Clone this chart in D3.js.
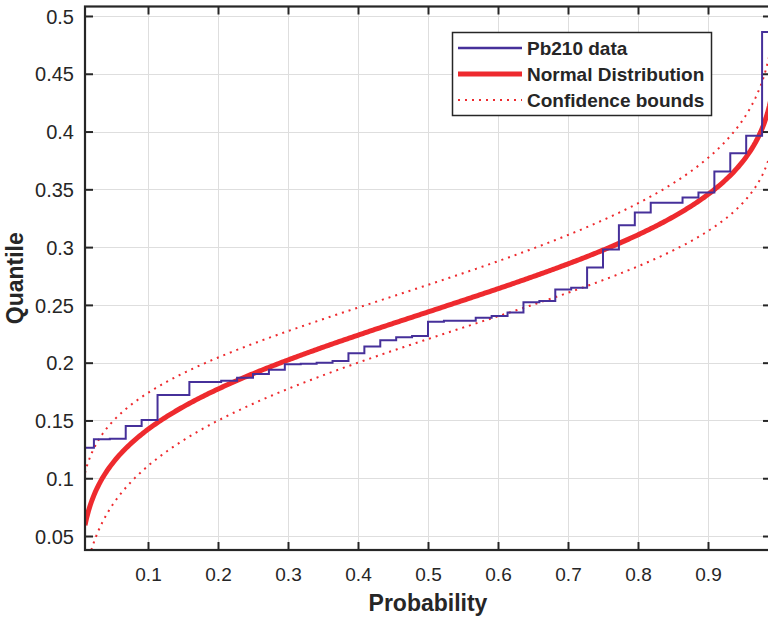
<!DOCTYPE html>
<html>
<head>
<meta charset="utf-8">
<script src="https://cdn.jsdelivr.net/npm/d3@7"></script>
<style>
  body { margin: 0; background: #fff; }
  svg { display: block; font-family: "Liberation Sans", Arial, sans-serif; }
</style>
</head>
<body>
<svg id="chart" width="768" height="617"></svg>
<script>
// Pb210 sample values, sorted
const pb210 = [
  0.1264, 0.1337, 0.1342, 0.1452, 0.1504, 0.1720, 0.1720, 0.1833, 0.1833, 0.1844,
  0.1870, 0.1902, 0.1939, 0.1986, 0.1990, 0.2000, 0.2014, 0.2081, 0.2141, 0.2195,
  0.2219, 0.2230, 0.2354, 0.2362, 0.2362, 0.2389, 0.2403, 0.2435, 0.2522, 0.2533,
  0.2634, 0.2648, 0.2824, 0.2980, 0.3190, 0.3300, 0.3383, 0.3383, 0.3430, 0.3473,
  0.3655, 0.3813, 0.3963, 0.4862
];

const xTicks = [0.1, 0.2, 0.3, 0.4, 0.5, 0.6, 0.7, 0.8, 0.9];
const yTicks = [0.05, 0.1, 0.15, 0.2, 0.25, 0.3, 0.35, 0.4, 0.45, 0.5];
const xLimits = [0.01, 0.99];
const yLimits = [0.0379, 0.5082];

const legendLabels = ["Pb210 data", "Normal Distribution", "Confidence bounds"];

const purple = "#46309a";
const red = "#ee2a2e";
const ink = "#262626";

const svg = d3.select("#chart");

// plot area
const plotL = 85, plotR = 771, plotT = 6.5, plotB = 550;

const x = d3.scaleLinear().domain(xLimits).range([plotL, plotR]);
const y = d3.scaleLinear().domain(yLimits).range([plotB, plotT]);

// inverse normal cdf (Acklam)
function norminv(p) {
  const a = [-3.969683028665376e+01, 2.209460984245205e+02, -2.759285104469687e+02, 1.383577518672690e+02, -3.066479806614716e+01, 2.506628277459239e+00];
  const b = [-5.447609879822406e+01, 1.615858368580409e+02, -1.556989798598866e+02, 6.680131188771972e+01, -1.328068155288572e+01];
  const c = [-7.784894002430293e-03, -3.223964580411365e-01, -2.400758277161838e+00, -2.549732539343734e+00, 4.374664141464968e+00, 2.938163982698783e+00];
  const d = [7.784695709041462e-03, 3.224671290700398e-01, 2.445134137142996e+00, 3.754408661907416e+00];
  const plow = 0.02425, phigh = 1 - plow;
  let q, r;
  if (p < plow) {
    q = Math.sqrt(-2 * Math.log(p));
    return (((((c[0]*q+c[1])*q+c[2])*q+c[3])*q+c[4])*q+c[5]) / ((((d[0]*q+d[1])*q+d[2])*q+d[3])*q+1);
  }
  if (p > phigh) {
    q = Math.sqrt(-2 * Math.log(1 - p));
    return -(((((c[0]*q+c[1])*q+c[2])*q+c[3])*q+c[4])*q+c[5]) / ((((d[0]*q+d[1])*q+d[2])*q+d[3])*q+1);
  }
  q = p - 0.5; r = q * q;
  return (((((a[0]*r+a[1])*r+a[2])*r+a[3])*r+a[4])*r+a[5])*q / (((((b[0]*r+b[1])*r+b[2])*r+b[3])*r+b[4])*r+1);
}

// normal fit from the data
const n = pb210.length;
const mu = d3.mean(pb210);
const sigma = d3.deviation(pb210);
const zc = 1.96;

const probs = d3.range(0, 401).map(i => xLimits[0] + (xLimits[1] - xLimits[0]) * i / 400);
const fit = probs.map(p => {
  const z = norminv(p);
  const q = mu + z * sigma;
  const se = sigma * Math.sqrt(1 / n + z * z / (2 * n));
  return { p, q, lo: q - zc * se, hi: q + zc * se };
});

// stairs: value i holds from i/n to (i+1)/n
const stairs = pb210.map((v, i) => ({ p: i === 0 ? xLimits[0] : i / n, v }));
stairs.push({ p: xLimits[1], v: pb210[n - 1] });

svg.append("defs").append("clipPath").attr("id", "clip")
  .append("rect").attr("x", plotL).attr("y", plotT)
  .attr("width", plotR - plotL).attr("height", plotB - plotT);

// grid
const grid = svg.append("g").attr("stroke", "#dedede").attr("stroke-width", 1);
grid.selectAll(".gx").data(xTicks).join("line")
  .attr("x1", d => Math.round(x(d)) + 0.5).attr("x2", d => Math.round(x(d)) + 0.5)
  .attr("y1", plotT).attr("y2", plotB);
grid.selectAll(".gy").data(yTicks).join("line")
  .attr("y1", d => Math.round(y(d)) + 0.5).attr("y2", d => Math.round(y(d)) + 0.5)
  .attr("x1", plotL).attr("x2", plotR);

const plot = svg.append("g").attr("clip-path", "url(#clip)");

const fitLine = key => d3.line().x(d => x(d.p)).y(d => y(d[key]));

plot.append("path").datum(fit).attr("d", fitLine("lo"))
  .attr("fill", "none").attr("stroke", red).attr("stroke-width", 2)
  .attr("stroke-dasharray", "2,5");
plot.append("path").datum(fit).attr("d", fitLine("hi"))
  .attr("fill", "none").attr("stroke", red).attr("stroke-width", 2)
  .attr("stroke-dasharray", "2,5");

plot.append("path").datum(fit).attr("d", fitLine("q"))
  .attr("fill", "none").attr("stroke", red).attr("stroke-width", 5);

plot.append("path").datum(stairs)
  .attr("d", d3.line().x(d => x(d.p)).y(d => y(d.v)).curve(d3.curveStepAfter))
  .attr("fill", "none").attr("stroke", purple).attr("stroke-width", 2);

// axes
const xAxis = svg.append("g").attr("transform", `translate(0,${plotB})`)
  .call(d3.axisBottom(x).tickValues(xTicks).tickFormat(d3.format(".1f"))
    .tickSize(-8).tickPadding(18));
const yAxis = svg.append("g").attr("transform", `translate(${plotL},0)`)
  .call(d3.axisLeft(y).tickValues(yTicks).tickFormat(d => String(+d.toFixed(2)))
    .tickSize(-8).tickPadding(11));
const xTop = svg.append("g").attr("transform", `translate(0,${plotT})`)
  .call(d3.axisTop(x).tickValues(xTicks).tickFormat("").tickSize(-8));
const yRight = svg.append("g").attr("transform", `translate(${plotR},0)`)
  .call(d3.axisRight(y).tickValues(yTicks).tickFormat("").tickSize(-8));

[xAxis, yAxis, xTop, yRight].forEach(g => {
  g.select(".domain").remove();
  g.selectAll(".tick line").attr("stroke", ink).attr("stroke-width", 2);
  g.selectAll(".tick text").attr("fill", ink);
});
xAxis.selectAll(".tick text").attr("font-size", 19);
yAxis.selectAll(".tick text").attr("font-size", 20).attr("dy", "0.36em");

svg.append("rect").attr("x", plotL).attr("y", plotT)
  .attr("width", plotR - plotL).attr("height", plotB - plotT)
  .attr("fill", "none").attr("stroke", ink).attr("stroke-width", 2.2);

// axis labels
svg.append("text").attr("x", (plotL + plotR) / 2).attr("y", 611)
  .attr("text-anchor", "middle").attr("font-size", 23).attr("font-weight", "bold")
  .attr("fill", ink).text("Probability");
svg.append("text")
  .attr("transform", `translate(23,${(plotT + plotB) / 2}) rotate(-90)`)
  .attr("text-anchor", "middle").attr("font-size", 23).attr("font-weight", "bold")
  .attr("fill", ink).text("Quantile");

// legend
const legend = svg.append("g");
legend.append("rect").attr("x", 452.5).attr("y", 32.5).attr("width", 259).attr("height", 83)
  .attr("fill", "#fff").attr("stroke", ink).attr("stroke-width", 1.5);
const legendStyles = [
  { stroke: purple, width: 2.5, dash: null },
  { stroke: red, width: 5, dash: null },
  { stroke: red, width: 2, dash: "2,5" }
];
legendLabels.forEach((label, i) => {
  const ly = 48 + i * 26;
  legend.append("line").attr("x1", 458).attr("x2", 522).attr("y1", ly).attr("y2", ly)
    .attr("stroke", legendStyles[i].stroke).attr("stroke-width", legendStyles[i].width)
    .attr("stroke-dasharray", legendStyles[i].dash);
  legend.append("text").attr("x", 527).attr("y", ly).attr("dy", "0.36em")
    .attr("font-size", 19).attr("font-weight", "bold").attr("fill", ink).text(label);
});
</script>
</body>
</html>
